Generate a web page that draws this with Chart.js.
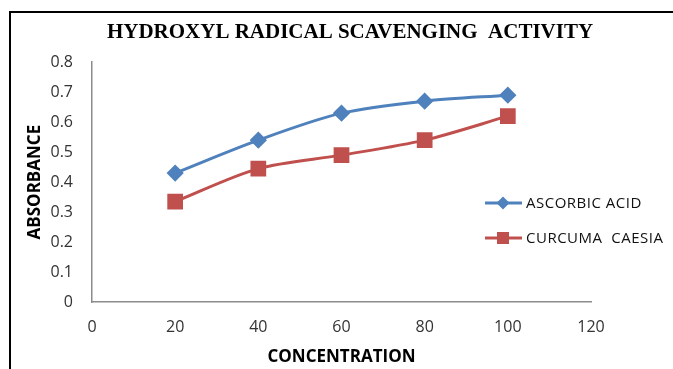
<!DOCTYPE html>
<html>
<head>
<meta charset="utf-8">
<script src="https://cdn.jsdelivr.net/npm/chart.js@4.4.1/dist/chart.umd.min.js"></script>
<style>
  html, body { margin: 0; padding: 0; background: #fff; overflow: hidden; }
  #wrap { position: relative; width: 673px; height: 369px; }
  #frame { position: absolute; left: 9px; top: 11px; width: 700px; height: 400px;
           border-left: 2px solid #000; border-top: 2px solid #000; }
  #chart { position: absolute; left: 0; top: 0; }
</style>
</head>
<body>
<div id="wrap">
  <div id="frame"></div>
  <canvas id="chart" width="673" height="369"></canvas>
</div>
<script>
// data
var concentration = [20, 40, 60, 80, 100];
var ascorbicAcid = [0.43, 0.54, 0.63, 0.67, 0.69];
var curcumaCaesia = [0.335, 0.445, 0.49, 0.54, 0.62];
var seriesNames = ['ASCORBIC ACID', 'CURCUMA  CAESIA'];

function toPoints(xs, ys) {
	return xs.map(function (x, i) {
		return { x: x, y: ys[i] };
	});
}

var tickFont = { family: "'Open Sans', sans-serif", size: 16 };
var titleFont = { family: "'Open Sans', sans-serif", size: 17, weight: 'bold' };

// legend drawn inside the plot like the excel one
var sideLegend = {
	id: 'sideLegend',
	afterDraw: function (chart) {
		var ctx = chart.ctx;
		var rows = [203, 238];
		chart.data.datasets.forEach(function (ds, i) {
			var y = rows[i];
			ctx.save();
			ctx.strokeStyle = ds.borderColor;
			ctx.lineWidth = 3;
			ctx.beginPath();
			ctx.moveTo(485, y);
			ctx.lineTo(522, y);
			ctx.stroke();
			ctx.fillStyle = ds.backgroundColor;
			ctx.beginPath();
			if (ds.pointStyle === 'rectRot') {
				ctx.moveTo(503, y - 6.5);
				ctx.lineTo(509.5, y);
				ctx.lineTo(503, y + 6.5);
				ctx.lineTo(496.5, y);
				ctx.closePath();
			} else {
				ctx.rect(497, y - 6, 12, 12);
			}
			ctx.fill();
			ctx.fillStyle = '#111';
			ctx.font = "15px 'Open Sans', sans-serif";
			ctx.letterSpacing = '0.5px';
			ctx.textBaseline = 'middle';
			ctx.textAlign = 'left';
			ctx.fillText(ds.label, 526, y + 1);
			ctx.restore();
		});
	},
};

var ctx0 = document.getElementById('chart').getContext('2d');
var chart0 = new Chart(ctx0, {
	type: 'line',
	data: {
		datasets: [
			{
				label: seriesNames[0],
				data: toPoints(concentration, ascorbicAcid),
				borderColor: '#4F81BD',
				backgroundColor: '#4F81BD',
				borderWidth: 3,
				pointStyle: 'rectRot',
				pointRadius: 6.5,
				pointHoverRadius: 6.5,
				tension: 0.3,
				fill: false,
			},
			{
				label: seriesNames[1],
				data: toPoints(concentration, curcumaCaesia),
				borderColor: '#C0504D',
				backgroundColor: '#C0504D',
				borderWidth: 3,
				pointStyle: 'rect',
				pointRadius: 9,
				pointHoverRadius: 9,
				tension: 0.3,
				fill: false,
			},
		],
	},
	options: {
		responsive: false,
		animation: false,
		layout: { padding: { left: 27, right: 0, top: 12, bottom: 0 } },
		plugins: {
			legend: { display: false },
			tooltip: { enabled: false },
			title: {
				display: true,
				text: 'HYDROXYL RADICAL SCAVENGING  ACTIVITY',
				color: '#000',
				font: { family: "'Liberation Serif', serif", size: 21, weight: 'bold' },
				padding: { top: 8, bottom: 17 },
			},
		},
		scales: {
			x: {
				type: 'linear',
				min: 0,
				max: 120,
				ticks: { stepSize: 20, color: '#333', font: tickFont, padding: 16 },
				grid: { display: false, drawTicks: false },
				border: { display: true, color: '#8c8c8c', width: 1.5 },
				title: {
					display: true,
					text: 'CONCENTRATION',
					color: '#000',
					font: titleFont,
					padding: { top: 0, bottom: 2 },
				},
				afterFit: function (scale) {
					scale.height = 67;
				},
			},
			y: {
				min: 0,
				max: 0.8,
				ticks: { stepSize: 0.1, color: '#333', font: tickFont, padding: 19 },
				grid: { display: false, drawTicks: false },
				border: { display: true, color: '#8c8c8c', width: 1.5 },
				title: {
					display: true,
					text: 'ABSORBANCE',
					color: '#000',
					font: titleFont,
					padding: { top: -2, bottom: 0 },
				},
				afterFit: function (scale) {
					scale.width = 65;
				},
			},
			// empty right axis only to keep the plot from running to the edge
			spacer: {
				position: 'right',
				display: true,
				ticks: { display: false },
				grid: { display: false, drawTicks: false },
				border: { display: false },
				afterFit: function (scale) {
					scale.width = 82;
				},
			},
		},
	},
	plugins: [sideLegend],
});
</script>
</body>
</html>
